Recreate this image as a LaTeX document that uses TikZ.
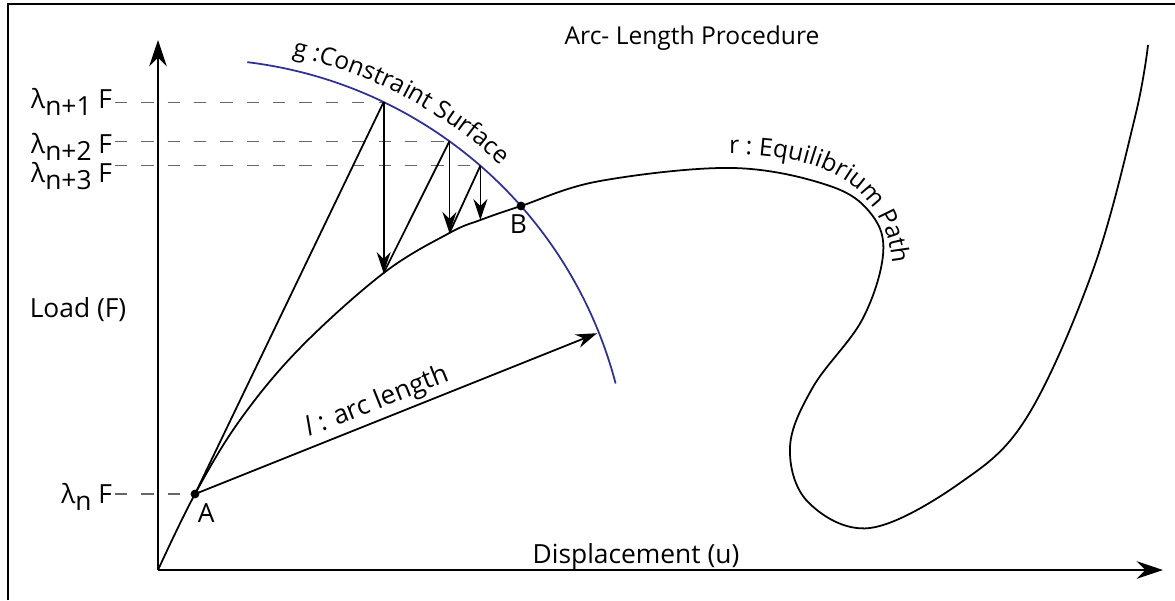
\documentclass[tikz,border=0pt]{standalone}
\usepackage{fontspec}
\setmainfont{Open Sans}
\usepackage{tikz}
\usetikzlibrary{positioning,arrows.meta,calc,decorations.text}
\definecolor{surfblue}{RGB}{46,49,146}

\begin{document}
\begin{tikzpicture}[
  x=0.02cm, y=0.02cm,
  font=\fontsize{15}{18}\selectfont,
  axis/.style={line width=1.1pt, -{Stealth[length=15pt, width=10pt, inset=5pt]}},
  curve/.style={line width=1pt},
  surf/.style={draw=surfblue, line width=1pt},
  iter/.style={line width=1pt},
  iterarr/.style={line width=1pt, -{Stealth[length=12pt, width=8pt, inset=4pt]}},
  dashln/.style={black!60, line width=0.6pt, dash pattern=on 7pt off 8pt},
  dot/.style={circle, fill=black, inner sep=0pt, minimum size=5pt},
  lam/.style={anchor=base east, inner sep=1.5pt}
]
\useasboundingbox (0,0) rectangle (1175,600);
\draw[line width=1.2pt] (8,0) -- (8,596) -- (1175,596);

\coordinate (O) at (158,30);
\coordinate (ytip) at (158,560);
\coordinate (xtip) at (1163,30);
\draw[axis] (O) -- (ytip);
\draw[axis] (O) -- (xtip);

\node[font=\fontsize{14}{17}\selectfont] (title) at (692,562) {Arc- Length Procedure};
\node (load) at (78,290) {Load (F)};
\node (disp) at (636,43) {Displacement (u)};

\coordinate (A) at (195,106);
\coordinate (B) at (521,394);
\coordinate (P1) at ($(A)+(64.3:435)$);
\coordinate (P2) at ($(A)+(54.2:435)$);
\coordinate (P3) at ($(A)+(49.0:435)$);
\coordinate (Q1) at (P1 |- 0,327);
\coordinate (Q2) at (P2 |- 0,367);
\coordinate (Q3) at (P3 |- 0,380);
\coordinate (L) at ($(A)+(21.8:433)$);

\draw[curve] plot[smooth, tension=0.6] coordinates {(O) (A) (240,180) (300,252) (Q1) (Q2) (Q3) (B) (600,419) (733,432) (830,414) (872,385) (883,345) (862,280) (813,213) (790,153) (808,98) (870,72) (960,117) (1027,183) (1093,330) (1135,483) (1148,555)};

\draw[surf] ($(A)+(83.1:435)$) arc[start angle=83.1, end angle=14.7, radius=247.5pt];
\path[decorate, decoration={text along path, text align=left,
  text={|\fontsize{14}{17}\selectfont|g :Constraint Surface}}]
  ($(A)+(77.5:449)$) arc[start angle=77.5, end angle=30, radius=255.5pt];
\path[decorate, decoration={text along path, text align=left,
  text={|\fontsize{14}{17}\selectfont|r : Equilibrium Path}}]
  (729,446) .. controls (815,446) and (893,420) .. (893,320);

\node[lam] (lamN1) at (115,492) {λ\raisebox{-4.5pt}{n+1} F};
\node[lam] (lamN2) at (115,447) {λ\raisebox{-4.5pt}{n+2} F};
\node[lam] (lamN3) at (115,418) {λ\raisebox{-4.5pt}{n+3} F};
\node[lam] (lamN) at (115,97) {λ\raisebox{-4.5pt}{n} F};
\draw[dashln] (lamN1.east |- P1) -- (P1);
\draw[dashln] (lamN2.east |- P2) -- (P2);
\draw[dashln] (lamN3.east |- P3) -- (P3);
\draw[dashln] (lamN.east |- A) -- (A);

\draw[iter] (A) -- (P1);
\draw[iterarr] (P1) -- (Q1);
\draw[iter] (Q1) -- (P2);
\draw[iterarr] (P2) -- (Q2);
\draw[iter] (Q2) -- (P3);
\draw[iterarr] (P3) -- (Q3);

\draw[iterarr] (A) -- (L) node[pos=0.47, sloped, above, inner sep=2pt] (arclbl) {\textit{l} : arc length};

\node[dot] (Adot) at (A) {};
\node[dot] (Bdot) at (B) {};
\node[anchor=north west, inner sep=0pt] (labA) at ([xshift=1.5pt, yshift=-5pt]A) {A};
\node[anchor=north, inner sep=0pt] (labB) at ([xshift=-1.5pt, yshift=-5pt]B) {B};
\end{tikzpicture}
\end{document}
